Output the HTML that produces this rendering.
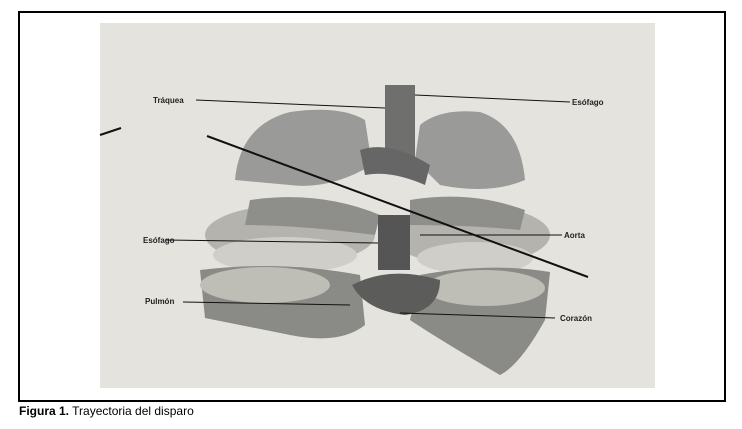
<!DOCTYPE html>
<html><head><style>
html,body{margin:0;padding:0;background:#fff;width:742px;height:429px;overflow:hidden;font-family:"Liberation Sans",Arial,sans-serif}
.frame{position:absolute;left:18px;top:11px;width:704px;height:387px;border:2px solid #000}
.cap{position:absolute;left:19px;top:404px;font-size:12px;color:#000}
svg{position:absolute;left:0;top:0}
</style></head><body>
<div class="frame"></div>
<svg width="742" height="429" viewBox="0 0 742 429">
<rect x="100" y="23" width="555" height="365" fill="#e5e3de"/>
<!-- upper lungs -->
<path d="M235,180 Q240,125 290,112 Q340,105 365,120 L372,165 Q330,190 290,185 Z" fill="#9a9a98"/>
<path d="M420,125 Q440,108 480,112 Q520,125 525,180 Q490,195 440,185 L415,160 Z" fill="#9a9a98"/>
<!-- trachea/vessels -->
<rect x="385" y="85" width="30" height="80" fill="#6f6f6e"/>
<path d="M360,150 Q390,140 430,165 L425,185 Q390,170 365,175 Z" fill="#666"/>
<!-- middle lobes -->
<ellipse cx="290" cy="235" rx="85" ry="30" fill="#b4b3ae"/>
<ellipse cx="470" cy="235" rx="80" ry="30" fill="#b4b3ae"/>
<path d="M250,200 Q320,190 380,215 L375,235 Q300,225 245,225 Z" fill="#8e8e8a"/>
<path d="M410,200 Q470,190 525,210 L520,230 Q470,225 410,225 Z" fill="#8e8e8a"/>
<ellipse cx="285" cy="255" rx="72" ry="18" fill="#cfcec8"/>
<ellipse cx="475" cy="258" rx="58" ry="16" fill="#cfcec8"/>
<rect x="378" y="215" width="32" height="55" fill="#555"/>
<!-- lower lungs -->
<path d="M200,270 Q280,260 360,275 L365,325 Q340,345 290,335 Q240,325 205,318 Z" fill="#8a8a86"/>
<path d="M420,275 Q490,262 550,272 L545,320 Q520,365 500,375 Q440,340 410,320 Z" fill="#8a8a86"/>
<ellipse cx="265" cy="285" rx="65" ry="18" fill="#bebdb6"/>
<ellipse cx="485" cy="288" rx="60" ry="18" fill="#bebdb6"/>
<path d="M352,285 Q390,265 440,280 Q440,310 405,315 Q365,310 352,285 Z" fill="#5c5c5a"/>
<!-- lines -->
<g stroke="#111" stroke-width="1">
<line x1="196" y1="100" x2="385" y2="108"/>
<line x1="415" y1="95" x2="570" y2="102"/>
<line x1="166" y1="240" x2="378" y2="243"/>
<line x1="420" y1="235" x2="562" y2="235"/>
<line x1="183" y1="302" x2="350" y2="305"/>
<line x1="400" y1="313" x2="555" y2="318"/>
</g>
<line x1="207" y1="136" x2="588" y2="277" stroke="#111" stroke-width="2"/>
<line x1="100" y1="135" x2="121" y2="128" stroke="#111" stroke-width="2"/>
<g font-size="8" font-weight="bold" fill="#222">
<text x="153" y="103">Tráquea</text>
<text x="572" y="105">Esófago</text>
<text x="143" y="243">Esófago</text>
<text x="564" y="238">Aorta</text>
<text x="145" y="304">Pulmón</text>
<text x="560" y="321">Corazón</text>
</g>
</svg>
<div class="cap"><b>Figura 1.</b> Trayectoria del disparo</div>
</body></html>
